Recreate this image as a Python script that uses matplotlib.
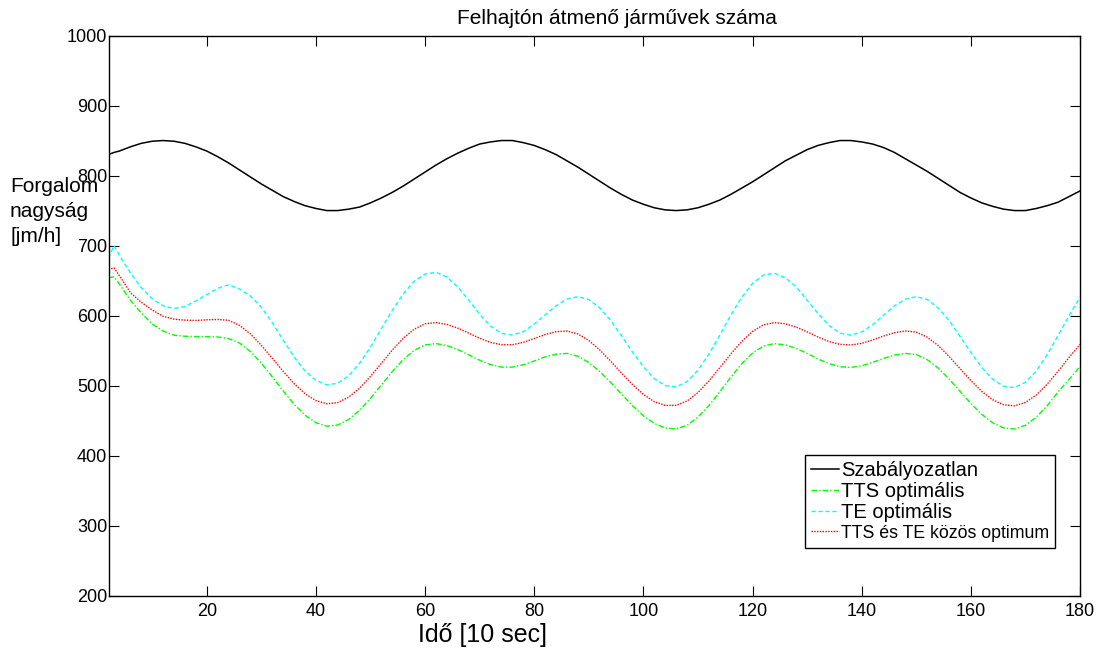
import matplotlib
matplotlib.use("Agg")
import matplotlib.pyplot as plt

plt.rcParams['font.family'] = ['Liberation Sans', 'DejaVu Sans']

# time steps [10 sec]
X = [2, 3] + list(range(4, 181, 2))

# Szabalyozatlan (uncontrolled)
BLACK = [830, 833, 835, 841, 846, 849, 850, 849, 846, 841, 835, 827, 818, 808, 798,
         788, 779, 770, 763, 757, 753, 750, 750, 752, 755, 761, 768, 776, 785, 795,
         805, 815, 824, 832, 839, 845, 848, 850, 850, 847, 843, 837, 830, 821, 812,
         802, 792, 782, 773, 765, 759, 754, 751, 750, 751, 754, 759, 765, 773, 782,
         791, 801, 811, 821, 829, 837, 843, 847, 850, 850, 848, 845, 840, 833, 824,
         815, 806, 796, 786, 776, 768, 761, 756, 752, 750, 750, 753, 757, 762, 770,
         778]

# TTS optimalis
GREEN = [654, 655.5, 645, 622, 604, 588, 578, 572, 570.5, 570, 570, 569.5, 567.2, 560.8, 548.6,
         532, 512.6, 492.4, 473.5, 457.8, 447, 442.1, 443.8, 451.7, 464.8, 481.9, 501, 520.1, 537.2, 550.3,
         558.2, 560, 557.2, 551.5, 544, 536.3, 530, 526.4, 526.4, 529.8, 535.2, 541, 545, 546, 541.9,
         533, 520.2, 504.6, 487.8, 471.4, 456.9, 446, 439.5, 438.2, 443.4, 455, 471.5, 491.2, 511.9, 531,
         546.5, 556.5, 560, 558.2, 553.2, 546, 538.1, 531.3, 527, 526, 528.4, 533.2, 538.8, 543.6, 546,
         544.4, 537.1, 525.2, 509.5, 492, 474.5, 458.8, 446.9, 439.6, 438, 443.4, 455, 471.5, 491.2, 509,
         527]

# TE optimalis
CYAN = [682, 700, 686, 661, 640, 624, 614, 610, 613, 621, 630, 639, 644, 638, 628,
        612, 590, 565, 541, 521, 507.5, 501, 503.5, 514, 532, 555, 581.5, 607.6, 631, 649,
        659.5, 661.8, 655, 641, 622, 602, 585, 574.5, 572.2, 577, 588, 601, 614, 623.6, 627,
        623, 611, 593, 571, 548, 527, 510, 500, 498.3, 505.7, 522, 545, 572, 600.5, 626,
        646, 658, 660.5, 654, 641, 622, 603, 586, 575, 572, 576.6, 587, 600.5, 614, 623.5,
        627, 623, 611, 593, 570.5, 547.5, 526, 509, 499, 497.3, 504.7, 521, 544.4, 571.8, 600,
        626]

# TTS es TE kozos optimum
RED = [666, 668, 657, 633, 619, 608, 599, 595, 593.5, 593, 594, 594.5, 593.3, 586, 573.8,
       557.6, 539.2, 520.4, 502.9, 488.5, 478.6, 474.1, 475.7, 483.5, 496.4, 513.2, 532, 550.8, 567.6, 580.5,
       588.3, 590, 587.4, 582, 575, 567.7, 561.7, 558.4, 558.4, 561.8, 567.2, 573, 577, 578, 573.7,
       564.6, 551, 535, 518, 501.6, 487.5, 477, 471.7, 471.8, 478, 490, 506.6, 525.6, 545, 563,
       577.4, 586.8, 590, 588.3, 583.6, 576.8, 569.4, 563, 559, 558, 560.4, 565.2, 570.8, 575.6, 578,
       576.4, 569.3, 557.4, 541.8, 524.5, 507.2, 491.7, 479.8, 472.6, 471.2, 476, 486.7, 502.2, 520.6, 540.4,
       558.8]

LABELS = ["Szabályozatlan", "TTS optimális", "TE optimális", "TTS és TE közös optimum"]

fig = plt.figure(figsize=(10.99, 6.57), dpi=100)
ax = fig.add_axes([108.5 / 1099, 1 - 595.7 / 657, (1080 - 108.5) / 1099, (595.7 - 35.5) / 657])

ax.plot(X, BLACK, color="black", lw=1.1, label=LABELS[0])
ax.plot(X, GREEN, color=(0, 1, 0), lw=1.0, dashes=(4, 1.5, 1, 1.5), label=LABELS[1])
ax.plot(X, CYAN, color=(0, 1, 1), lw=1.0, dashes=(3, 2), label=LABELS[2])
ax.plot(X, RED, color=(1, 0, 0), lw=1.0, dashes=(1, 1), label=LABELS[3])

ax.set_xlim(2, 180)
ax.set_ylim(200, 1000)
ax.set_xticks(range(20, 181, 20))
ax.set_yticks(range(200, 1001, 100))
ax.tick_params(direction="in", length=7, width=0.8, top=True, right=True,
               labelsize=13, colors="black")
ax.tick_params(axis="x", pad=5)
ax.tick_params(axis="y", pad=1)
for sp in ax.spines.values():
    sp.set_linewidth(1.0)

fig.text(617 / 1099, 1 - 18 / 657, "Felhajtón átmenő járművek száma",
         ha="center", va="center", fontsize=15)
fig.text(483 / 1099, 1 - 635 / 657, "Idő [10 sec]", ha="center", va="center", fontsize=18)
fig.text(10 / 1099, 1 - 177 / 657, "Forgalom\nnagyság\n[jm/h]", ha="left", va="top",
         fontsize=15, linespacing=1.4)

leg = ax.legend(loc="upper left", bbox_to_anchor=(805 / 1099, 1 - 455 / 657),
                bbox_transform=fig.transFigure, fontsize=14.5, handlelength=1.4,
                handletextpad=0.1, labelspacing=0.1, borderpad=0.3,
                borderaxespad=0, fancybox=False, framealpha=1, edgecolor="black")
leg.get_frame().set_linewidth(1.0)
leg.get_texts()[3].set_fontsize(12.8)

fig.savefig("out.png", dpi=100)
